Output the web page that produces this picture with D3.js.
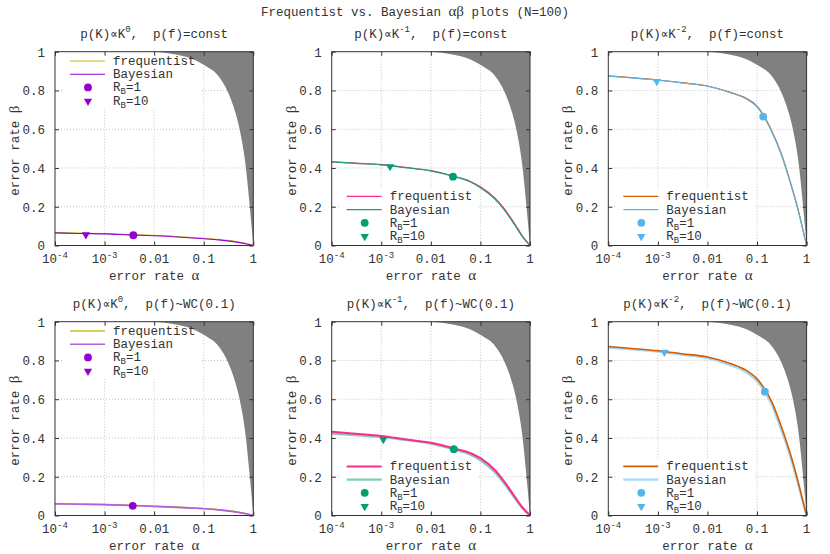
<!DOCTYPE html>
<html>
<head>
<meta charset="utf-8">
<script src="https://cdn.jsdelivr.net/npm/d3@7"></script>
<style>
  body { margin: 0; background: #fff; }
  text { font-family: "Liberation Mono", "DejaVu Sans Mono", monospace; font-size: 12.5px; fill: #333; white-space: pre; }
</style>
</head>
<body>
<svg id="chart" width="830" height="554"></svg>
<script>
const alphaGrid = [1e-4, 3e-4, 1e-3, 3e-3, 0.01, 0.03, 0.06, 0.1, 0.2, 0.3, 0.5, 0.7, 0.85, 1]

// beta values, one per alphaGrid entry
const freqK0Const  = [0.067, 0.064, 0.062, 0.057, 0.052, 0.046, 0.041, 0.037, 0.031, 0.026, 0.018, 0.011, 0.006, 0]
const bayesK0Const = [0.065, 0.062, 0.060, 0.055, 0.050, 0.044, 0.039, 0.035, 0.029, 0.024, 0.016, 0.009, 0.004, 0]
const freqK1Const  = [0.432, 0.425, 0.417, 0.403, 0.386, 0.357, 0.333, 0.303, 0.243, 0.191, 0.109, 0.050, 0.022, 0]
const bayesK1Const = [0.431, 0.424, 0.416, 0.402, 0.385, 0.355, 0.330, 0.298, 0.237, 0.185, 0.103, 0.046, 0.019, 0]
const freqK2Const  = [0.875, 0.866, 0.854, 0.840, 0.823, 0.789, 0.760, 0.719, 0.590, 0.483, 0.305, 0.170, 0.078, 0]
const bayesK2Const = [0.874, 0.865, 0.853, 0.839, 0.822, 0.787, 0.757, 0.715, 0.584, 0.476, 0.299, 0.165, 0.074, 0]
const freqK0WC     = [0.061, 0.059, 0.057, 0.053, 0.048, 0.043, 0.039, 0.036, 0.030, 0.025, 0.017, 0.010, 0.005, 0]
const bayesK0WC    = [0.060, 0.058, 0.056, 0.052, 0.047, 0.042, 0.038, 0.035, 0.029, 0.024, 0.016, 0.009, 0.004, 0]
const freqK1WC     = [0.432, 0.422, 0.410, 0.393, 0.375, 0.345, 0.324, 0.296, 0.232, 0.176, 0.095, 0.043, 0.019, 0]
const bayesK1WC    = [0.422, 0.415, 0.405, 0.390, 0.371, 0.340, 0.316, 0.285, 0.221, 0.166, 0.087, 0.037, 0.016, 0]
const freqK2WC     = [0.872, 0.862, 0.850, 0.835, 0.818, 0.783, 0.750, 0.705, 0.585, 0.468, 0.295, 0.158, 0.070, 0]
const bayesK2WC    = [0.866, 0.857, 0.846, 0.830, 0.812, 0.775, 0.741, 0.693, 0.570, 0.452, 0.282, 0.148, 0.065, 0]

// R_B markers [alpha, beta]
const rb1Points  = [[0.0038, 0.053], [0.028, 0.355], [0.133, 0.665], [0.0037, 0.050], [0.029, 0.342], [0.144, 0.639]]
const rb10Points = [[4.2e-4, 0.058], [1.5e-3, 0.410], [9.5e-4, 0.849], null, [1.1e-3, 0.395], [1.35e-3, 0.845]]

// edge of the grey (unreachable) region
const boundaryAlpha = [1e-4, 0.0038, 0.011, 0.021, 0.04, 0.068, 0.11, 0.197, 0.31, 0.395, 0.53, 0.71, 0.85, 1]
const boundaryBeta  = [1, 1, 0.998, 0.991, 0.976, 0.956, 0.926, 0.875, 0.79, 0.72, 0.60, 0.40, 0.20, 0]

const panelExponents = ["0", "-1", "-2", "0", "-1", "-2"]
const panelPriors = ["p(f)=const", "p(f)=const", "p(f)=const", "p(f)~WC(0.1)", "p(f)~WC(0.1)", "p(f)~WC(0.1)"]

const xTickValues = [1e-4, 1e-3, 1e-2, 1e-1, 1]
const xTickLabels = [["10", "-4"], ["10", "-3"], ["0.01"], ["0.1"], ["1"]]
const yTickValues = [0, 0.2, 0.4, 0.6, 0.8, 1]
const legendLabels = ["frequentist", "Bayesian", "R_B=1", "R_B=10"]

const freqSeries  = [freqK0Const, freqK1Const, freqK2Const, freqK0WC, freqK1WC, freqK2WC]
const bayesSeries = [bayesK0Const, bayesK1Const, bayesK2Const, bayesK0WC, bayesK1WC, bayesK2WC]

// styles per panel
const styles = [
    {freq: "#c9c020", fw: 1.2, bayes: "#9400d3", bw: 1.1, mark: "#9400d3", key: "top", bayesOnTop: true},
    {freq: "#ff2a90", fw: 1.2, bayes: "#1f9d7a", bw: 1.2, mark: "#009e73", key: "bottom", bayesOnTop: true},
    {freq: "#d55e00", fw: 1.2, bayes: "#5ab4e6", bw: 1.2, mark: "#56b4e9", key: "bottom", bayesOnTop: true},
    {freq: "#c9c020", fw: 1.6, bayes: "#b060e0", bw: 1.6, mark: "#9400d3", key: "top", bayesOnTop: true},
    {freq: "#ff2a90", fw: 2.0, bayes: "#7fcfb7", bw: 2.2, mark: "#009e73", key: "bottom", bayesOnTop: false},
    {freq: "#d55e00", fw: 1.6, bayes: "#a8d8f5", bw: 2.4, mark: "#56b4e9", key: "bottom", bayesOnTop: false}
]

const colLeft = [55, 331.7, 608.3]
const rowTop = [51.7, 321.7]
const plotW = 198.3
const plotH = 193.8

const svg = d3.select("#chart")

// main title
const mainTitle = svg.append("text")
    .attr("x", 415).attr("y", 16)
    .attr("text-anchor", "middle")
mainTitle.append("tspan").text("Frequentist vs. Bayesian ")
mainTitle.append("tspan").attr("font-family", "Liberation Serif").attr("font-size", 15).text("αβ")
mainTitle.append("tspan").text(" plots (N=100)")

function rbText(sel, label) {
    // label like R_B=10 -> R with subscript B
    const parts = label.split("_")
    if (parts.length === 1) { sel.text(label); return }
    sel.append("tspan").text(parts[0])
    sel.append("tspan").attr("font-size", 9).attr("dy", 3).text(parts[1][0])
    sel.append("tspan").attr("dy", -3).text(parts[1].slice(1))
}

d3.range(6).forEach(i => {
    const left = colLeft[i % 3]
    const top = rowTop[Math.floor(i / 3)]
    const bottom = top + plotH
    const st = styles[i]

    const x = d3.scaleLog().domain([1e-4, 1]).range([left, left + plotW])
    const y = d3.scaleLinear().domain([0, 1]).range([bottom, top])

    const g = svg.append("g")

    // grid
    g.selectAll(".gx")
        .data([1e-3, 1e-2, 1e-1])
        .join("line")
        .attr("x1", d => x(d)).attr("x2", d => x(d))
        .attr("y1", top).attr("y2", bottom)
        .attr("stroke", "#b4b4b4").attr("stroke-width", 0.8)
        .attr("stroke-dasharray", "1,2")
    g.selectAll(".gy")
        .data([0.2, 0.4, 0.6, 0.8])
        .join("line")
        .attr("x1", left).attr("x2", left + plotW)
        .attr("y1", d => y(d)).attr("y2", d => y(d))
        .attr("stroke", "#b4b4b4").attr("stroke-width", 0.8)
        .attr("stroke-dasharray", "1,2")

    // opaque key background (hides grid only)
    const rowStep = 13.2
    const rows = d3.range(4).map(k => st.key === "top"
        ? top + 9.3 + k * rowStep
        : bottom - 9.5 - (3 - k) * rowStep)
    const boxTop = Math.max(top, rows[0] - 8.5)
    const boxBottom = Math.min(bottom, rows[3] + 8.5)
    g.append("rect")
        .attr("x", left + 8).attr("width", 138)
        .attr("y", boxTop).attr("height", boxBottom - boxTop)
        .attr("fill", "#fff")

    // grey unreachable region
    const boundary = boundaryAlpha.map((a, k) => [a, boundaryBeta[k]])
    g.append("path")
        .datum(boundary)
        .attr("d", d3.area()
            .x(d => x(d[0]))
            .y0(top)
            .y1(d => y(d[1]))
            .curve(d3.curveMonotoneX))
        .attr("fill", "#808080")

    // curves
    const line = d3.line()
        .x(d => x(d[0]))
        .y(d => y(d[1]))
        .curve(d3.curveMonotoneX)
    const freq = alphaGrid.map((a, k) => [a, freqSeries[i][k]])
    const bayes = alphaGrid.map((a, k) => [a, bayesSeries[i][k]])
    const order = st.bayesOnTop
        ? [[freq, st.freq, st.fw], [bayes, st.bayes, st.bw]]
        : [[bayes, st.bayes, st.bw], [freq, st.freq, st.fw]]
    order.forEach(([data, color, w]) => {
        g.append("path")
            .datum(data)
            .attr("d", line)
            .attr("fill", "none")
            .attr("stroke", color)
            .attr("stroke-width", w)
    })

    // markers
    const tri = d3.symbol().type(d3.symbolTriangle).size(30)
    const p1 = rb1Points[i]
    g.append("circle")
        .attr("cx", x(p1[0])).attr("cy", y(p1[1])).attr("r", 3.9)
        .attr("fill", st.mark)
    const p10 = rb10Points[i]
    if (p10) {
        g.append("path")
            .attr("d", tri)
            .attr("transform", `translate(${x(p10[0])},${y(p10[1]) + 0.5}) rotate(180)`)
            .attr("fill", st.mark)
    }

    // key entries
    g.append("line")
        .attr("x1", left + 15).attr("x2", left + 50)
        .attr("y1", rows[0]).attr("y2", rows[0])
        .attr("stroke", st.freq).attr("stroke-width", st.fw)
    g.append("line")
        .attr("x1", left + 15).attr("x2", left + 50)
        .attr("y1", rows[1]).attr("y2", rows[1])
        .attr("stroke", st.bayes).attr("stroke-width", st.bw)
    g.append("circle")
        .attr("cx", left + 33).attr("cy", rows[2]).attr("r", 3.9)
        .attr("fill", st.mark)
    g.append("path")
        .attr("d", tri)
        .attr("transform", `translate(${left + 33},${rows[3] + 0.5}) rotate(180)`)
        .attr("fill", st.mark)
    legendLabels.forEach((lab, k) => {
        const t = g.append("text")
            .attr("x", left + 58).attr("y", rows[k] + 4)
        rbText(t, lab)
    })

    // axes (ticks inward, mirrored)
    const tick = 4
    const ax = [
        [d3.axisBottom(x).tickValues(xTickValues).tickFormat(""), `translate(0,${bottom})`],
        [d3.axisTop(x).tickValues(xTickValues).tickFormat(""), `translate(0,${top})`],
        [d3.axisRight(y).tickValues(yTickValues).tickFormat(""), `translate(${left + plotW},0)`]
    ]
    ax.forEach(([a, tr]) => {
        const s = g.append("g").attr("transform", tr)
            .call(a.tickSizeInner(-tick).tickSizeOuter(0))
        s.select(".domain").remove()
        s.selectAll("line").attr("stroke", "#333")
    })
    const yAxis = g.append("g")
        .attr("transform", `translate(${left},0)`)
        .call(d3.axisLeft(y).tickValues(yTickValues).tickFormat(d3.format(""))
            .tickSizeInner(-tick).tickSizeOuter(0).tickPadding(10))
    yAxis.select(".domain").remove()
    yAxis.selectAll("line").attr("stroke", "#333")
    yAxis.attr("font-family", null).attr("font-size", null)
    yAxis.selectAll("text").attr("fill", "#333").attr("dy", "0.35em")

    // x tick labels with superscripts
    xTickValues.forEach((v, k) => {
        const lab = xTickLabels[k]
        const t = g.append("text")
            .attr("x", x(v)).attr("y", bottom + 17.5)
            .attr("text-anchor", "middle")
        t.append("tspan").text(lab[0])
        if (lab[1]) t.append("tspan").attr("font-size", 9).attr("dy", -5.5).text(lab[1])
    })

    // border
    g.append("rect")
        .attr("x", left).attr("y", top)
        .attr("width", plotW).attr("height", plotH)
        .attr("fill", "none").attr("stroke", "#333").attr("stroke-width", 1)

    // panel title
    const title = g.append("text")
        .attr("x", left + plotW / 2).attr("y", top - 14)
        .attr("text-anchor", "middle")
    title.append("tspan").text("p(K)∝K")
    title.append("tspan").attr("font-size", 9).attr("dy", -5.5).text(panelExponents[i])
    title.append("tspan").attr("dy", 5.5).text(",  " + panelPriors[i])

    // axis labels
    const xl = g.append("text")
        .attr("x", left + plotW / 2).attr("y", bottom + 34)
        .attr("text-anchor", "middle")
    xl.append("tspan").text("error rate ")
    xl.append("tspan").attr("font-family", "Liberation Serif").attr("font-size", 15).text("α")

    const yl = g.append("text")
        .attr("transform", `translate(${left - 36},${top + plotH / 2 + 2}) rotate(-90)`)
        .attr("text-anchor", "middle")
    yl.append("tspan").text("error rate ")
    yl.append("tspan").attr("font-family", "Liberation Serif").attr("font-size", 15).text("β")
})
</script>
</body>
</html>
